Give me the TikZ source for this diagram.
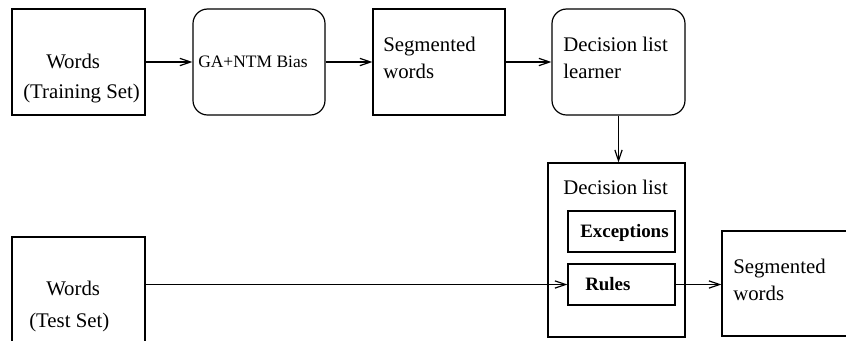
\documentclass[tikz,border=0pt]{standalone}
\usepackage{fontspec}
\setmainfont{Liberation Serif}
\usetikzlibrary{arrows.meta,fit}

\begin{document}
\begin{tikzpicture}[x=0.75pt,y=-0.75pt,
    box/.style={draw=black,line width=0.9pt,inner sep=0pt,fill=none},
    rbox/.style={box,rounded corners=11pt},
    lbl/.style={inner sep=0pt,anchor=base west,font=\fontsize{15.6pt}{18pt}\selectfont},
    smalllbl/.style={lbl,font=\fontsize{13.1pt}{15pt}\selectfont},
    boldlbl/.style={lbl,font=\fontsize{14.2pt}{17pt}\selectfont\bfseries},
    flow/.style={line width=0.9pt,-{Straight Barb[length=8pt,width=5.5pt,line width=0.9pt]}}]
  \useasboundingbox (0,0) rectangle (846,340);

  % training pipeline
  \node[box,fit={(12,9)(145,115)}] (train) {};
  \node[rbox,fit={(193,9)(325,115)}] (ga) {};
  \node[box,fit={(373,9)(505,115)}] (seg1) {};
  \node[rbox,fit={(552,9)(685,115)}] (learner) {};

  \node[lbl] (trainA) at (46,68) {Words};
  \node[lbl] (trainB) at (23,98) {(Training Set)};
  \node[smalllbl] (gaT) at (198,67) {GA+NTM Bias};
  \node[lbl] (seg1A) at (383,51) {Segmented};
  \node[lbl] (seg1B) at (383,78) {words};
  \node[lbl] (learnA) at (563,51) {Decision list};
  \node[lbl] (learnB) at (563,78) {learner};

  % decision list with its two parts
  \node[box,fit={(548,163)(685,337)}] (dlist) {};
  \node[lbl] (dlistT) at (563,194) {Decision list};
  \node[box,fit={(568,211)(675,252)}] (exc) {};
  \node[box,fit={(568,264)(675,305)}] (rules) {};
  \node[boldlbl] (excT) at (580,237) {Exceptions};
  \node[boldlbl] (rulesT) at (585,290) {Rules};

  % test pipeline
  \node[box,fit={(12,237)(145,362)}] (test) {};
  \node[lbl] (testA) at (46,295) {Words};
  \node[lbl] (testB) at (29,327) {(Test Set)};
  \node[box,fit={(722,231)(862,336)}] (seg2) {};
  \node[lbl] (seg2A) at (733,273) {Segmented};
  \node[lbl] (seg2B) at (733,300) {words};

  % connectors
  \draw[flow] (train.east) -- (ga.west);
  \draw[flow] (ga.east) -- (seg1.west);
  \draw[flow] (seg1.east) -- (learner.west);
  \draw[flow] (learner.south) -- (learner.south |- dlist.north);
  \draw[flow] (test.east |- rules.west) -- (rules.west);
  \draw[flow] (rules.east) -- (seg2.west |- rules.east);
\end{tikzpicture}
\end{document}
